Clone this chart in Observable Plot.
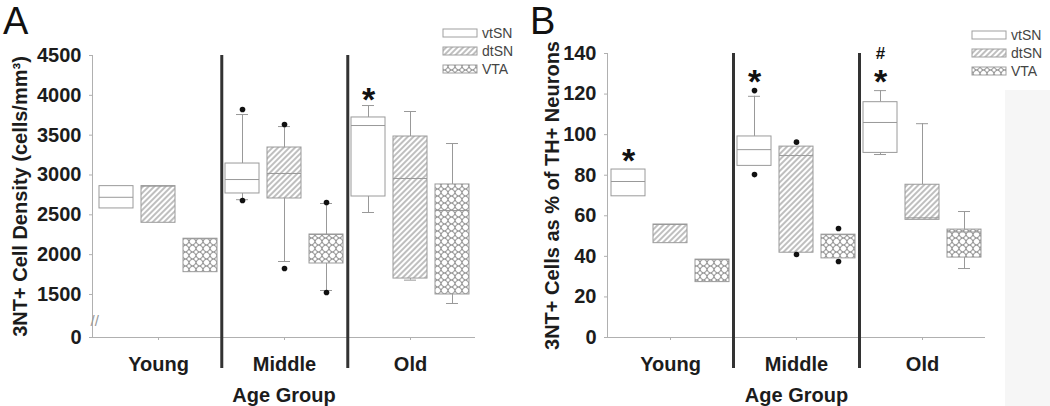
<!DOCTYPE html>
<html><head><meta charset="utf-8">
<script src="https://cdn.jsdelivr.net/npm/d3@7"></script>
<script src="https://cdn.jsdelivr.net/npm/@observablehq/plot@0.6"></script>
<style>
body{margin:0;background:#fff;}
#wrap{position:relative;width:1050px;height:406px;overflow:hidden;font-family:"Liberation Sans",Arial,sans-serif;background:#fff;}
.panel{position:absolute;top:0;}
.letter{position:absolute;font-size:38px;line-height:1;color:#111;font-family:"Liberation Sans",Arial,sans-serif;}
#shade{position:absolute;left:1005px;top:90px;width:45px;height:316px;background:#f6f6f6;}
#legend{position:absolute;left:0;top:0;}
</style></head><body>
<svg width="0" height="0" style="position:absolute"><defs>
<pattern id="hatch" width="4" height="4" patternUnits="userSpaceOnUse" patternTransform="rotate(45)">
 <rect width="4" height="4" fill="#fff"/><line x1="1" y1="0" x2="1" y2="4" stroke="#8a8a8a" stroke-width="1.1"/>
</pattern>
<pattern id="circles" width="7" height="7" patternUnits="userSpaceOnUse">
 <rect width="7" height="7" fill="#fff"/><circle cx="3.5" cy="3.5" r="3.2" fill="none" stroke="#8a8a8a" stroke-width="1"/>
</pattern>
</defs></svg>
<div id="wrap">
  <div id="shade"></div>
  <div class="panel" id="pa" style="left:0"></div>
  <div class="panel" id="pb" style="left:525px"></div>
  <div class="letter" style="left:3px;top:2px">A</div>
  <div class="letter" style="left:530px;top:2px">B</div>
</div>
<script>
// ---------- data ----------
const groups = ["Young", "Middle", "Old"];
const regions = ["vtSN", "dtSN", "VTA"];

// Panel A: 3NT+ cell density (cells/mm3), order: Young(vtSN,dtSN,VTA), Middle(...), Old(...)
const minA = [2580, 2400, 1780, 2690, 1914, 1550, 2529, 1680, 1387];
const q1A  = [2580, 2400, 1780, 2768, 2705, 1889, 2730, 1700, 1500];
const medA = [2720, 2860, 2200, 2943, 3019, 2253, 3621, 2956, 2554];
const q3A  = [2860, 2860, 2200, 3144, 3345, 2253, 3722, 3483, 2881];
const maxA = [2860, 2860, 2200, 3759, 3608, 2642, 3872, 3797, 3395];
const outGroupA  = ["Middle", "Middle", "Middle", "Middle", "Middle", "Middle"];
const outRegionA = ["vtSN", "vtSN", "dtSN", "dtSN", "VTA", "VTA"];
const outValueA  = [3822, 2680, 3634, 1826, 2655, 1525];
const yTicksA = [0, 1500, 2000, 2500, 3000, 3500, 4000, 4500];
const yBreakA = 960;   // value position at which the broken axis shows "0"
const starGroupA = ["Old"], starRegionA = ["vtSN"], starLabelA = ["*"];

// Panel B: 3NT+ cells as % of TH+ neurons
const minB = [69.6, 46.5, 27.3, 84.6, 41.8, 39.0, 90.2, 58.0, 34.0];
const q1B  = [69.6, 46.5, 27.3, 84.6, 41.8, 39.0, 91.0, 58.0, 39.4];
const medB = [76.9, 55.7, 38.4, 92.6, 89.7, 50.7, 106.0, 59.0, 52.0];
const q3B  = [82.8, 55.7, 38.4, 99.1, 94.1, 50.7, 116.0, 75.3, 53.2];
const maxB = [82.8, 55.7, 38.4, 118.9, 94.1, 50.7, 121.7, 105.4, 62.1];
const outGroupB  = ["Middle", "Middle", "Middle", "Middle", "Middle", "Middle"];
const outRegionB = ["vtSN", "vtSN", "dtSN", "dtSN", "VTA", "VTA"];
const outValueB  = [121.7, 80.3, 96.3, 40.9, 53.7, 37.5];
const yTicksB = [0, 20, 40, 60, 80, 100, 120, 140];
const starGroupB = ["Young", "Middle", "Old"], starRegionB = ["vtSN", "vtSN", "vtSN"], starLabelB = ["*", "*", "*"];
const hashGroupB = ["Old"], hashRegionB = ["vtSN"], hashLabelB = ["#"];

const titleA = "3NT+ Cell Density (cells/mm\u00B3)";
const titleB = "3NT+ Cells as % of TH+ Neurons";
const xTitle = "Age Group";

// ---------- build ----------
const fills = {vtSN: "#ffffff", dtSN: "url(#hatch)", VTA: "url(#circles)"};
const keyOf = (g, r) => g + " " + r;
const keys = groups.flatMap(g => regions.map(r => keyOf(g, r)));

function rowsOf(mn, q1, md, q3, mx) {
  return keys.map((k, i) => ({key: k, region: regions[i % 3], min: mn[i], q1: q1[i], med: md[i], q3: q3[i], max: mx[i]}));
}
function pointsOf(gs, rs, vs) {
  return gs.map((g, i) => ({key: keyOf(g, rs[i]), value: vs[i]}));
}
function topOf(rows, outs, key) {
  const r = rows.find(d => d.key === key);
  const o = outs.filter(d => d.key === key).map(d => d.value);
  return Math.max(r.max, ...o);
}

function panel(cfg) {
  const W = 525, H = 406;
  const xOpts = {type: "band", domain: keys, range: [cfg.ml, W - cfg.mr], paddingInner: 0.2, paddingOuter: 0.1};
  const step = Plot.scale({x: xOpts}).step;
  const rows = cfg.rows, outs = cfg.outs;
  const stars = cfg.stars.map(s => ({...s, top: topOf(rows, outs, s.key)}));
  const hashes = (cfg.hashes || []).map(s => ({...s, top: topOf(rows, outs, s.key)}));
  const dividers = [keyOf("Young", "VTA"), keyOf("Middle", "VTA")];
  return Plot.plot({
    width: W, height: H,
    marginLeft: cfg.ml, marginRight: cfg.mr, marginTop: cfg.mt, marginBottom: H - 337,
    style: {fontFamily: "'Liberation Sans', Arial, sans-serif", fontSize: "20px", fontWeight: "bold", color: "#1c1c1c", background: "transparent"},
    x: {...xOpts, range: undefined},
    y: {domain: cfg.ydomain},
    color: {type: "identity"},
    marks: [
      Plot.ruleY([cfg.ydomain[0]], {stroke: "#b0b0b0"}),
      Plot.frame({anchor: "left", stroke: "#b0b0b0"}),
      Plot.ruleX(rows.filter(d => d.max > d.q3), {x: "key", y1: "q3", y2: "max", stroke: "#999"}),
      Plot.ruleX(rows.filter(d => d.min < d.q1), {x: "key", y1: "min", y2: "q1", stroke: "#999"}),
      Plot.tickY(rows.filter(d => d.max > d.q3), {x: "key", y: "max", stroke: "#999", insetLeft: 11, insetRight: 11}),
      Plot.tickY(rows.filter(d => d.min < d.q1), {x: "key", y: "min", stroke: "#999", insetLeft: 11, insetRight: 11}),
      Plot.barY(rows, {x: "key", y1: "q1", y2: "q3", fill: d => fills[d.region], stroke: "#9a9a9a", strokeWidth: 1}),
      Plot.tickY(rows, {x: "key", y: "med", stroke: "#999"}),
      Plot.dot(outs, {x: "key", y: "value", r: 2.8, fill: "#111", stroke: "none"}),
      Plot.ruleX(dividers, {x: d => d, dx: step / 2, stroke: "#333", strokeWidth: 3, insetBottom: -31}),
      Plot.text(stars, {x: "key", y: "top", text: "label", lineAnchor: "bottom", fontSize: 34, dy: cfg.starDy, fill: "#111"}),
      Plot.text(hashes, {x: "key", y: "top", text: "label", lineAnchor: "bottom", fontSize: 17, dy: -32, fill: "#111"}),
      cfg.breakMark ? Plot.text(["//"], {frameAnchor: "bottom-left", text: d => d, dy: -12, dx: -2, fontSize: 15, fontWeight: "normal", fill: "#999"}) : null,
      Plot.text([cfg.title], {frameAnchor: "left", text: d => d, rotate: -90, dx: cfg.titleDx, textAnchor: "middle", lineAnchor: "middle", fontSize: 20, fontWeight: "bold", fill: "#1c1c1c"}),
      Plot.axisY({ticks: cfg.yticks, tickFormat: cfg.yfmt, tickSize: 3, tickPadding: 8, stroke: "#b0b0b0", label: null}),
      Plot.axisX({ticks: groups.map(g => keyOf(g, "dtSN")), tickFormat: d => d.split(" ")[0], tickSize: 3, tickPadding: 16, stroke: "#b0b0b0",
        label: xTitle, labelAnchor: "center", labelOffset: 64})
    ]
  });
}

const rowsA = rowsOf(minA, q1A, medA, q3A, maxA);
const outsA = pointsOf(outGroupA, outRegionA, outValueA);
const plotA = panel({
  ml: 92, mr: 50, mt: 55, rows: rowsA, outs: outsA,
  stars: starGroupA.map((g, i) => ({key: keyOf(g, starRegionA[i]), label: starLabelA[i]})),
  ydomain: [yBreakA, 4500], yticks: yTicksA.map(v => v === 0 ? yBreakA : v), yfmt: v => v === yBreakA ? "0" : String(v),
  title: titleA, titleDx: -72, starDy: 5, breakMark: true
});
document.getElementById("pa").appendChild(plotA);

const rowsB = rowsOf(minB, q1B, medB, q3B, maxB);
const outsB = pointsOf(outGroupB, outRegionB, outValueB);
const plotB = panel({
  ml: 82, mr: 65, mt: 53, rows: rowsB, outs: outsB,
  stars: starGroupB.map((g, i) => ({key: keyOf(g, starRegionB[i]), label: starLabelB[i]})),
  hashes: hashGroupB.map((g, i) => ({key: keyOf(g, hashRegionB[i]), label: hashLabelB[i]})),
  ydomain: [0, 140], yticks: yTicksB, yfmt: v => String(v),
  title: titleB, titleDx: -55, starDy: 2, breakMark: false
});
document.getElementById("pb").appendChild(plotB);

// ---------- legends ----------
const leg = d3.select("#wrap").append("svg").attr("id", "legend").attr("width", 1050).attr("height", 406);
[{x: 443, y: 33}, {x: 972, y: 35}].forEach(p => {
  regions.forEach((r, i) => {
    const cy = p.y + i * 18;
    leg.append("rect").attr("x", p.x).attr("y", cy - 4).attr("width", 34).attr("height", 8)
      .attr("fill", fills[r]).attr("stroke", "#a0a0a0").attr("stroke-width", 1);
    leg.append("text").attr("x", p.x + 39).attr("y", cy).attr("dy", "0.35em")
      .attr("font-family", "'Liberation Sans', Arial, sans-serif").attr("font-size", 14).attr("fill", "#444").text(r);
  });
});
</script>
</body></html>
